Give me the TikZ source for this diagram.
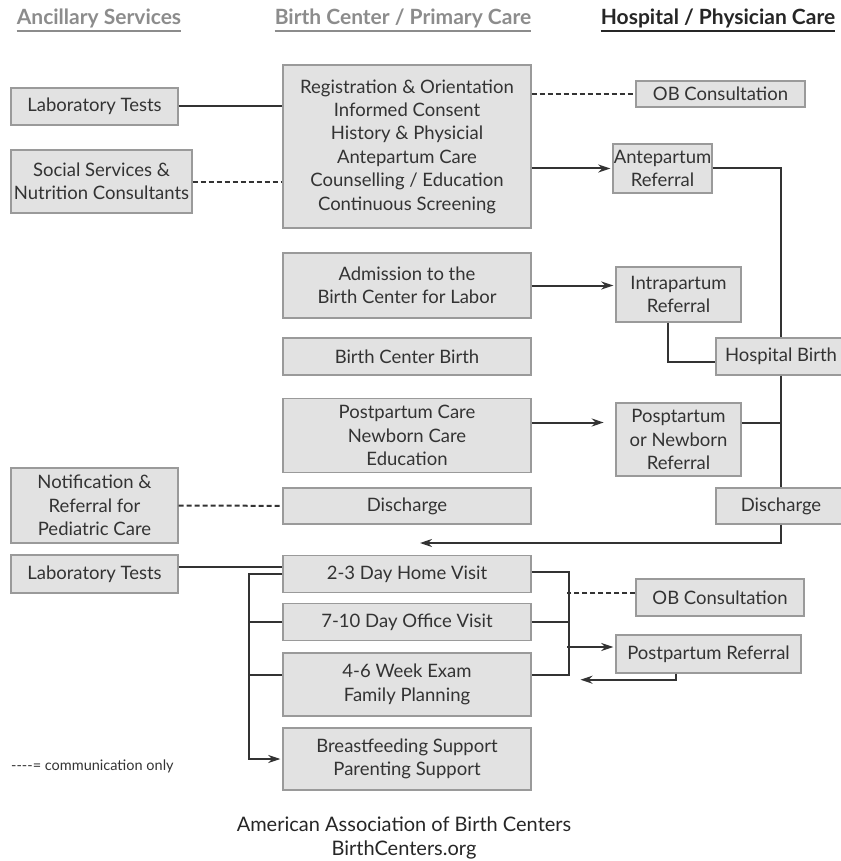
\documentclass[tikz,border=0pt]{standalone}
\usepackage{fontspec}
\setmainfont{Lato}
\usepackage{xcolor}
\usepackage{tikz}
\usetikzlibrary{arrows.meta,positioning}

\definecolor{boxfill}{HTML}{E2E2E2}
\definecolor{boxline}{HTML}{9A9A9A}
\definecolor{ink}{HTML}{333333}
\definecolor{hdrgray}{HTML}{8C8C8C}

\begin{document}
\begin{tikzpicture}[
  x=1pt,y=-1pt,
  box/.style={draw=boxline,fill=boxfill,line width=1.4pt,inner sep=0pt,align=center,
    text=ink,font=\fontsize{18.5}{23.4}\selectfont},
  mid/.style={box,minimum width=248,minimum height=#1},
  hdr/.style={inner sep=0pt,font=\fontsize{21}{24}\selectfont\bfseries,text=hdrgray},
  uline/.style={line width=2pt,draw=hdrgray},
  ln/.style={line width=2pt,draw=ink},
  dsh/.style={ln,dash pattern=on 5pt off 3pt},
  ar/.style={ln,-{Stealth[length=12pt,width=8pt]},shorten >=2pt}
]
\useasboundingbox (0,0) rectangle (840,861);

% column headings
\node[hdr] (hAnc) at (99,18) {Ancillary Services};
\node[hdr] (hBC) at (403,18) {Birth Center / Primary Care};
\node[hdr,text=black!85] (hHosp) at (718,18) {Hospital / Physician Care};
\coordinate (ulY) at (0,31);
\draw[uline] (hAnc.west |- ulY) -- (hAnc.east |- ulY);
\draw[uline] (hBC.west |- ulY) -- (hBC.east |- ulY);
\draw[uline,draw=black!85] (hHosp.west |- ulY) -- (hHosp.east |- ulY);

% birth center column
\node[mid=163] (reg) at (407,146.5) {Registration \& Orientation\\Informed Consent\\History \& Physicial\\Antepartum Care\\Counselling / Education\\Continuous Screening};
\node[mid=65] (adm) at (407,285.5) {Admission to the\\Birth Center for Labor};
\node[mid=37] (bcb) at (407,356.5) {Birth Center Birth};
\node[mid=74] (postc) at (407,435.5) {Postpartum Care\\Newborn Care\\Education};
\node[mid=36] (dis1) at (407,506) {Discharge};
\node[mid=37] (home) at (407,574) {2-3 Day Home Visit};
\node[mid=37] (office) at (407,622) {7-10 Day Office Visit};
\node[mid=63] (exam) at (407,684.5) {4-6 Week Exam\\Family Planning};
\node[mid=62] (bfs) at (407,759) {Breastfeeding Support\\Parenting Support};

% ancillary column
\node[box,minimum width=167,minimum height=37] (lab1) at (94.5,106.5) {Laboratory Tests};
\node[box,minimum width=181,minimum height=63] (soc) at (101.5,181.5) {Social Services \&\\Nutrition Consultants};
\node[box,minimum width=167,minimum height=75] (notif) at (94.5,505.5) {Notification \&\\Referral for\\Pediatric Care};
\node[box,minimum width=167,minimum height=38] (lab2) at (94.5,574) {Laboratory Tests};

% hospital column
\node[box,minimum width=169,minimum height=26] (ob1) at (720.5,94) {OB Consultation};
\node[box,minimum width=99,minimum height=49] (ante) at (662.5,168.5) {Antepartum\\Referral};
\node[box,minimum width=125,minimum height=55] (intra) at (678.5,294.5) {Intrapartum\\Referral};
\node[box,minimum width=130,minimum height=37] (hbirth) at (781,356.5) {Hospital Birth};
\node[box,minimum width=125,minimum height=73] (postref) at (678.5,439.5) {Posptartum\\or Newborn\\Referral};
\node[box,minimum width=130,minimum height=36] (dis2) at (781,506) {Discharge};
\node[box,minimum width=168,minimum height=37] (ob2) at (720,597.5) {OB Consultation};
\node[box,minimum width=185,minimum height=38] (pref) at (708.5,654) {Postpartum Referral};

\node[font=\fontsize{14.5}{16}\selectfont,text=ink,anchor=west,inner sep=0pt] (key) at (11,766) {{-}{-}{-}{-}= communication only};
\node[font=\fontsize{20}{24}\selectfont,text=black!85,align=center,inner sep=0pt] (credit) at (404,838) {American Association of Birth Centers\\BirthCenters.org};

% top part
\draw[ln] (lab1) -- (lab1 -| reg.west);
\draw[dsh] (soc) -- (soc -| reg.west);
\draw[dsh] (reg.east |- ob1) -- (ob1);
\draw[ar] (reg.east |- ante) -- (ante);
\draw[ln] (ante) -- (ante -| hbirth) -- (hbirth);
\draw[ar] (adm) -- (adm -| intra.west);
\draw[ln] ([xshift=-11pt]intra.south) |- ([yshift=-5pt]hbirth.west);
\draw[ln] (hbirth) -- (dis2);
\coordinate (pcOut) at ([yshift=13pt]postc.east);
\draw[ar] (pcOut) -- +(74,0);
\draw[ln] ([yshift=17pt]postref.east) -- +(40,0);
\draw[dsh] (notif) -- (dis1);
\coordinate (back) at (418,543);
\draw[ar] (dis2) |- (back);

% follow-up visits
\draw[ln] ([yshift=7pt]lab2.east) -- ([yshift=7pt]home.west);
\draw[ar] (home.west) -- +(-33,0) |- (bfs.west);
\draw[ln] (office.west) -- +(-33,0);
\draw[ln] ([yshift=10pt]exam.west) -- +(-33,0);
\draw[ln] ([yshift=2pt]home.east) -- +(37,0) |- ([yshift=10pt]exam.east);
\draw[ln] (office.east) -- +(37,0);
\draw[dsh] ([yshift=5pt]ob2.west) -- +(-68,0);
\draw[ar] ([yshift=7pt]pref.west) ++(-48,0) -- ([yshift=7pt]pref.west);
\draw[ar] ([xshift=-33pt]pref.south) |- +(-97,6);
\end{tikzpicture}
\end{document}
